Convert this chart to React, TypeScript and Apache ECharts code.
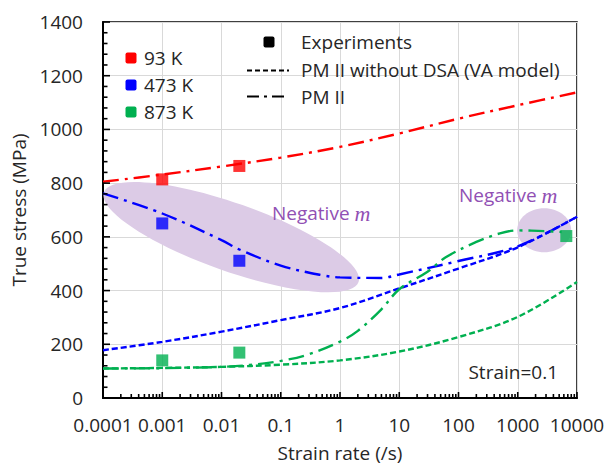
import React, { useEffect, useRef } from 'react';
import * as echarts from 'echarts';

// ---- data: strain rate (/s) vs true stress (MPa), strain = 0.1 ----
// 93 K, PM II
const RED_PM2_RATE = [1e-4, 1e-3, 1e-2, 1e-1, 1, 10, 100, 1000, 1e4];
const RED_PM2_STRESS = [805, 832, 862, 895, 935, 985, 1040, 1090, 1138];

// 473 K, PM II
const BLUE_PM2_RATE = [1e-4, 1e-3, 1e-2, 0.02, 0.1, 0.5, 1, 5, 10, 100, 1000, 1e4];
const BLUE_PM2_STRESS = [762, 687, 588, 553, 493, 457, 449, 447, 460, 510, 565, 675];

// 473 K, PM II without DSA (VA model)
const BLUE_VA_RATE = [1e-4, 1e-3, 1e-2, 0.1, 1, 10, 100, 1000, 1e4];
const BLUE_VA_STRESS = [178, 209, 247, 290, 335, 408, 482, 561, 675];

// 873 K, PM II
const GREEN_PM2_RATE = [1e-4, 1e-3, 1e-2, 0.03, 0.1, 0.3, 1, 2, 5, 10, 30, 60, 200, 500, 1000, 3000, 5500];
const GREEN_PM2_STRESS = [110, 111, 116, 123, 138, 163, 210, 250, 330, 405, 470, 523, 581, 613, 624, 621, 618];

// 873 K, PM II without DSA (VA model)
const GREEN_VA_RATE = [1e-4, 1e-3, 1e-2, 0.1, 1, 10, 100, 1000, 1e4];
const GREEN_VA_STRESS = [110, 112, 116, 124, 140, 173, 227, 302, 432];

// experiments
const EXP_RED_RATE = [0.001, 0.02];
const EXP_RED_STRESS = [814, 864];
const EXP_BLUE_RATE = [0.001, 0.02];
const EXP_BLUE_STRESS = [650, 511];
const EXP_GREEN_RATE = [0.001, 0.02, 6600];
const EXP_GREEN_STRESS = [140, 169, 603];

// shaded "negative m" regions, centred in data space
const REGION_RATE = [0.0146, 2793];
const REGION_STRESS = [599, 625];

// axis
const X_MIN = 1e-4;
const X_MAX = 1e4;
const Y_MIN = 0;
const Y_MAX = 1400;
const Y_STEP = 200;
const Y_MINOR_STEP = 40;
const MINOR_STEPS = [2, 3, 4, 5, 6, 7, 8, 9];

const FONT = '"Open Sans", "Noto Sans", sans-serif';
const TEXT = '#262626';
const RED = '#ff0000';
const BLUE = '#0000ff';
const GREEN = '#00b050';
const PURPLE = '#9150b4';
const SHADE = '#dccbe6';
const DASH = [6, 3];
const DASH_DOT = [16, 6, 3, 6];

const REGION_SHAPES = [
  { rx: 135, ry: 34, rot: -0.34 },
  { rx: 27, ry: 22, rot: 0 },
];

const pairs = (xs: number[], ys: number[]) => xs.map((x, i) => [x, ys[i]]);

const decadeLabel = (v: number) => {
  const e = Math.round(Math.log10(v));
  return e < 0 ? Math.pow(10, e).toFixed(-e) : String(Math.round(Math.pow(10, e)));
};

// tick positions along both axes (drawn as short inward strokes)
const xTicks: { v: number; major: boolean }[] = [];
for (let e = Math.log10(X_MIN); e <= Math.log10(X_MAX); e++) {
  xTicks.push({ v: Math.pow(10, e), major: true });
  if (e < Math.log10(X_MAX)) MINOR_STEPS.forEach((m) => xTicks.push({ v: m * Math.pow(10, e), major: false }));
}
const yTicks: { v: number; major: boolean }[] = [];
for (let v = Y_MIN; v <= Y_MAX; v += Y_MINOR_STEP) yTicks.push({ v, major: v % Y_STEP === 0 });

const line = (name: string, xs: number[], ys: number[], color: string, dash: number[]) => ({
  name,
  type: 'line',
  data: pairs(xs, ys),
  smooth: 0.35,
  symbol: 'none',
  lineStyle: { color, width: 2.4, type: dash },
  z: 3,
  silent: true,
});

const scatter = (name: string, xs: number[], ys: number[], color: string) => ({
  name,
  type: 'scatter',
  symbol: 'rect',
  symbolSize: 12,
  data: pairs(xs, ys),
  itemStyle: { color },
  z: 5,
  silent: true,
});

const txt = (text: string, x: number, y: number, extra: any = {}) => ({
  type: 'text',
  x,
  y,
  silent: true,
  z: 10,
  style: {
    text,
    fontSize: 19,
    fontFamily: FONT,
    fill: TEXT,
    verticalAlign: 'middle',
    textVerticalAlign: 'middle',
    ...extra,
  },
});

const negativeM = (x: number, y: number) => ({
  type: 'text',
  x,
  y,
  silent: true,
  z: 10,
  style: {
    text: '{a|Negative }{m|m}',
    verticalAlign: 'middle',
    textVerticalAlign: 'middle',
    rich: {
      a: { fontSize: 19, fontFamily: FONT, fill: PURPLE, color: PURPLE },
      m: { fontSize: 22, fontFamily: '"Liberation Serif", "DejaVu Serif", serif', fontStyle: 'italic', fill: PURPLE, color: PURPLE },
    },
  },
});

const legendSquare = (cx: number, cy: number, color: string) => ({
  type: 'rect',
  silent: true,
  z: 10,
  shape: { x: cx - 5.5, y: cy - 5.5, width: 11, height: 11, r: 2 },
  style: { fill: color },
});

const legendLine = (y: number, dash: number[]) => ({
  type: 'line',
  silent: true,
  z: 10,
  shape: { x1: 247, y1: y, x2: 289, y2: y },
  style: { stroke: '#000', lineWidth: 2, lineDash: dash },
});

const strokeLine = (x1: number, y1: number, x2: number, y2: number) => ({
  type: 'line',
  silent: true,
  z: 20,
  shape: { x1, y1, x2, y2 },
  style: { stroke: '#000', lineWidth: 1.6 },
});

const option: any = {
  animation: false,
  backgroundColor: '#fff',
  grid: {
    left: 103,
    right: 28,
    top: 22,
    bottom: 68,
    show: true,
    borderColor: '#000',
    borderWidth: 1.5,
    backgroundColor: 'transparent',
    outerBoundsMode: 'none',
    containLabel: false,
  },
  xAxis: {
    type: 'log',
    logBase: 10,
    min: X_MIN,
    max: X_MAX,
    splitNumber: 8,
    name: 'Strain rate (/s)',
    nameLocation: 'middle',
    nameGap: 45,
    nameTextStyle: { fontSize: 19, lineHeight: 20, fontFamily: FONT, color: TEXT },
    axisLine: { lineStyle: { color: '#000', width: 2 } },
    axisTick: { show: false },
    axisLabel: {
      fontSize: 19,
      fontFamily: FONT,
      color: TEXT,
      margin: 17,
      showMinLabel: true,
      showMaxLabel: true,
      hideOverlap: false,
      formatter: (v: number) => decadeLabel(v),
    },
    splitLine: { show: true, lineStyle: { color: '#d9d9d9', width: 1 } },
  },
  yAxis: {
    type: 'value',
    min: Y_MIN,
    max: Y_MAX,
    interval: Y_STEP,
    name: 'True stress (MPa)',
    nameLocation: 'middle',
    nameGap: 68,
    nameTextStyle: { fontSize: 19, fontFamily: FONT, color: TEXT },
    axisLine: { show: true, lineStyle: { color: '#000', width: 2 } },
    axisTick: { show: false },
    axisLabel: {
      fontSize: 19,
      fontFamily: FONT,
      color: TEXT,
      margin: 20,
      formatter: (v: number) => String(v),
    },
    splitLine: { show: true, lineStyle: { color: '#d9d9d9', width: 1 } },
  },
  series: [
    {
      name: 'negative m regions',
      type: 'custom',
      coordinateSystem: 'cartesian2d',
      clip: false,
      silent: true,
      z: 1,
      data: pairs(REGION_RATE, REGION_STRESS),
      renderItem: (params: any, api: any) => {
        const c = api.coord([api.value(0), api.value(1)]);
        const s = REGION_SHAPES[params.dataIndex];
        return {
          type: 'ellipse',
          x: c[0],
          y: c[1],
          rotation: s.rot,
          shape: { cx: 0, cy: 0, rx: s.rx, ry: s.ry },
          style: { fill: SHADE },
        };
      },
    },
    line('93 K PM II', RED_PM2_RATE, RED_PM2_STRESS, RED, DASH_DOT),
    line('473 K PM II', BLUE_PM2_RATE, BLUE_PM2_STRESS, BLUE, DASH_DOT),
    line('473 K VA', BLUE_VA_RATE, BLUE_VA_STRESS, BLUE, DASH),
    line('873 K PM II', GREEN_PM2_RATE, GREEN_PM2_STRESS, GREEN, DASH_DOT),
    line('873 K VA', GREEN_VA_RATE, GREEN_VA_STRESS, GREEN, DASH),
    scatter('93 K', EXP_RED_RATE, EXP_RED_STRESS, RED),
    scatter('473 K', EXP_BLUE_RATE, EXP_BLUE_STRESS, BLUE),
    scatter('873 K', EXP_GREEN_RATE, EXP_GREEN_STRESS, GREEN),
  ],
};

const staticGraphics = [
  legendSquare(131, 58, RED),
  legendSquare(131, 85, BLUE),
  legendSquare(131, 112, GREEN),
  txt('93 K', 144, 58),
  txt('473 K', 144, 85),
  txt('873 K', 144, 112),
  legendSquare(269, 42, '#000'),
  txt('Experiments', 301, 42),
  legendLine(70.5, [5, 3]),
  txt('PM II without DSA (VA model)', 301, 70),
  legendLine(96.5, [12, 5, 3, 5]),
  txt('PM II', 301, 97),
  negativeM(272, 213),
  negativeM(459, 195),
  txt('Strain=0.1', 558, 372, { align: 'right', textAlign: 'right' }),
];

export default function App() {
  const ref = useRef<HTMLDivElement>(null);
  useEffect(() => {
    if (!ref.current) return;
    const chart = echarts.init(ref.current, null, { renderer: 'svg' });
    chart.setOption(option);

    // inward ticks placed through the axes' own scales
    const toPx = (x: number, y: number) => chart.convertToPixel({ gridIndex: 0 }, [x, y]) as number[];
    const tickGraphics: any[] = [];
    xTicks.forEach((t) => {
      const p = toPx(t.v, Y_MIN);
      tickGraphics.push(strokeLine(p[0], p[1], p[0], p[1] - (t.major ? 6 : 4)));
    });
    yTicks.forEach((t) => {
      const p = toPx(X_MIN, t.v);
      tickGraphics.push(strokeLine(p[0], p[1], p[0] + (t.major ? 7 : 4.5), p[1]));
    });
    chart.setOption({ graphic: { elements: [...staticGraphics, ...tickGraphics] } });

    return () => chart.dispose();
  }, []);
  return (
    <div
      ref={ref}
      style={{ position: 'fixed', left: 0, top: 0, width: 605, height: 466 }}
    />
  );
}
